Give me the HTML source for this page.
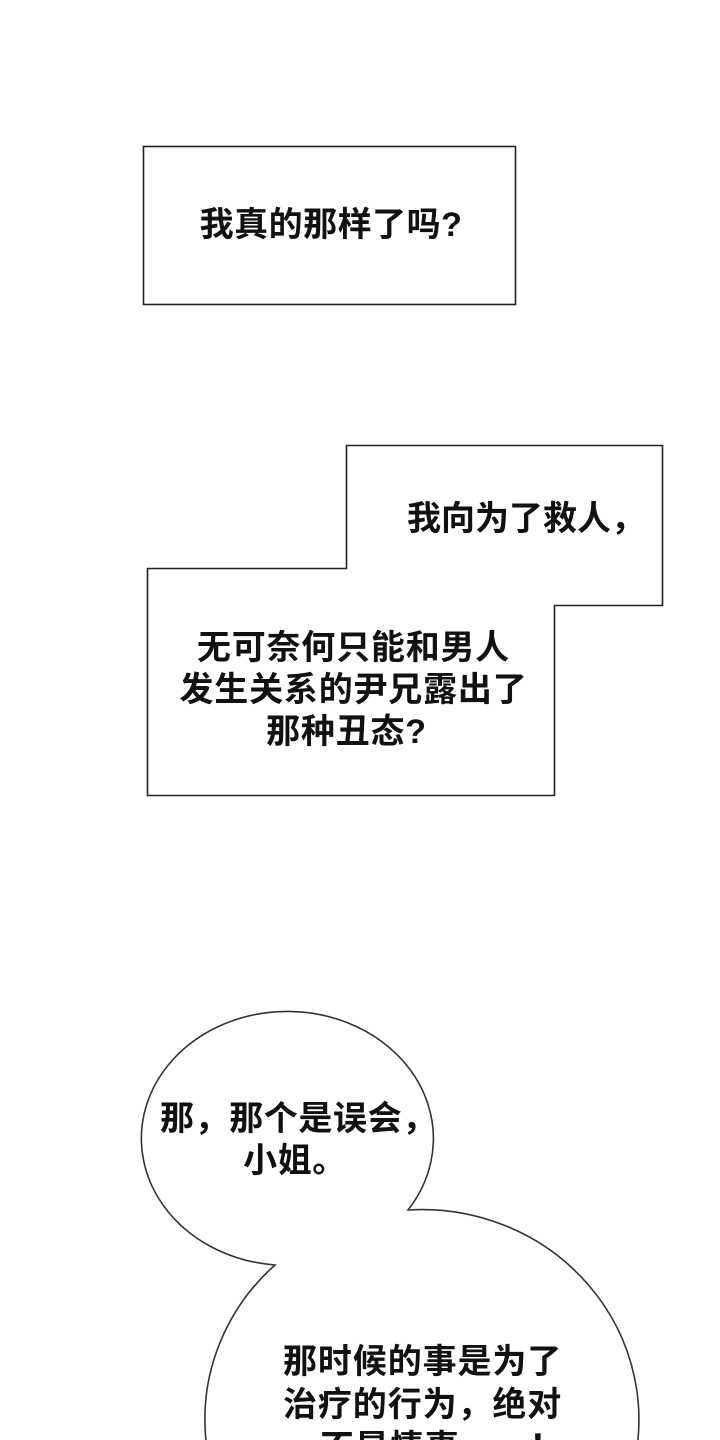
<!DOCTYPE html>
<html><head><meta charset="utf-8"><style>
html,body{margin:0;padding:0;background:#fff;width:720px;height:1440px;overflow:hidden;}
body{position:relative;}
svg{position:absolute;left:0;top:0;}
.t{position:absolute;font-family:"Liberation Sans","Noto Sans CJK SC",sans-serif;font-weight:bold;font-size:34px;color:#111;white-space:nowrap;line-height:43px;text-align:center;}
</style></head><body>
<svg width="720" height="1440" viewBox="0 0 720 1440">
<rect x="143.5" y="146.5" width="372" height="158" fill="#fff" stroke="#222" stroke-width="1.6"/>
<polygon points="346.5,445.5 662.5,445.5 662.5,605.5 554.5,605.5 554.5,795.5 147.5,795.5 147.5,568.5 346.5,568.5" fill="#fff" stroke="#222" stroke-width="1.6"/>
<path d="M408,1210 A146,127 0 1 0 275,1265 A217,210 0 1 0 408,1210 Z" fill="#fff" stroke="#333" stroke-width="1.6"/>
</svg>
<div class="t" style="left:145px;width:372px;top:204px;letter-spacing:0.5px;">我真的那样了吗?</div>
<div class="t" style="left:407px;top:498px;text-align:left;">我向为了救人，</div>
<div class="t" style="left:150px;width:407px;top:627px;line-height:42px;letter-spacing:0.8px;">无可奈何只能和男人<br>发生关系的尹兄露出了<br><span style="margin-left:-14px">那种丑态?</span></div>
<div class="t" style="left:160px;width:270px;top:1098px;line-height:42px;letter-spacing:0.6px;">那，那个是误会，<br>小姐。</div>
<div class="t" style="left:283px;top:1341px;text-align:left;letter-spacing:0.9px;">那时候的事是为了<br>治疗的行为，绝对<br><span style="margin-left:37px">不是情事……！</span></div>
</body></html>
